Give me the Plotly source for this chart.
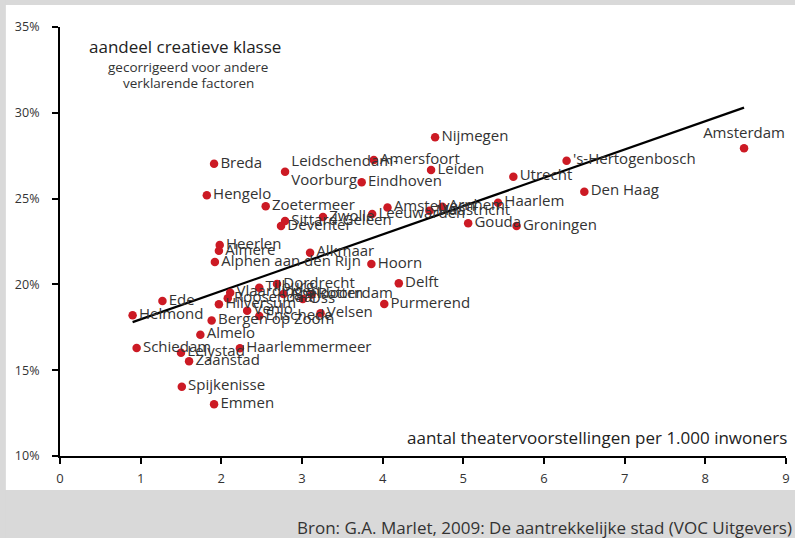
import plotly.graph_objects as go

# ---- data ----
cities = ["Amsterdam", "'s-Hertogenbosch", "Den Haag", "Utrecht", "Nijmegen", "Amersfoort",
          "Leiden", "Leidschendam-<br>Voorburg", "Eindhoven", "Breda", "Hengelo", "Zoetermeer",
          "Sittard-Geleen", "Deventer", "Zwolle", "Leeuwarden", "Amstelveen", "Arnhem",
          "Maastricht", "Haarlem", "Gouda", "Groningen", "Heerlen", "Almere",
          "Alphen aan den Rijn", "Alkmaar", "Hoorn", "Delft", "Purmerend", "Dordrecht",
          "Tilburg", "Vlaardingen", "Roosendaal", "Hilversum", "Venlo", "Enschede",
          "Velsen", "Apeldoorn", "Oss", "Rotterdam", "Ede", "Helmond", "Bergen op Zoom",
          "Almelo", "Schiedam", "Lelystad", "Haarlemmermeer", "Zaanstad", "Spijkenisse", "Emmen"]
theater = [8.48, 6.28, 6.50, 5.62, 4.65, 3.89,
           4.60, 2.79, 3.74, 1.91, 1.82, 2.55,
           2.79, 2.74, 3.26, 3.87, 4.06, 4.74,
           4.58, 5.43, 5.06, 5.66, 1.98, 1.97,
           1.92, 3.10, 3.86, 4.20, 4.02, 2.69,
           2.47, 2.11, 2.08, 1.97, 2.32, 2.47,
           3.23, 2.77, 3.01, 3.12, 1.27, 0.90, 1.88,
           1.74, 0.95, 1.50, 2.23, 1.60, 1.51, 1.91]
creative = [27.93, 27.21, 25.40, 26.28, 28.57, 27.25,
            26.67, 26.57, 25.95, 27.03, 25.19, 24.55,
            23.69, 23.40, 23.93, 24.10, 24.48, 24.53,
            24.29, 24.76, 23.56, 23.40, 22.30, 21.96,
            21.31, 21.85, 21.19, 20.06, 18.86, 20.02,
            19.81, 19.52, 19.19, 18.84, 18.47, 18.16,
            18.32, 19.44, 19.15, 19.41, 19.03, 18.20, 17.89,
            17.07, 16.29, 16.02, 16.28, 15.52, 14.04, 13.01]
label_pos = ["top center"] + ["middle right"] * 49

trend_x = [0.9, 8.48]
trend_y = [17.8, 30.3]

y_ticks = [10, 15, 20, 25, 30, 35]
y_tick_labels = ["10%", "15%", "20%", "25%", "30%", "35%"]
x_ticks = [0, 1, 2, 3, 4, 5, 6, 7, 8, 9]

# ---- layout geometry (pixels) ----
W, H = 795, 538
L, R, T, B = 60, 11, 27, 82
pw, ph = W - L - R, H - T - B


def px(x):
    return (x - L) / pw


def py(y):
    return (H - B - y) / ph


FONT = "Open Sans"
TXT = "#333333"
RED = "#cc1a24"

fig = go.Figure()
fig.add_trace(go.Scatter(x=trend_x, y=trend_y, mode="lines",
                         line=dict(color="black", width=2.2), hoverinfo="skip"))
fig.add_trace(go.Scatter(x=theater, y=creative, mode="markers+text", text=cities,
                         textposition=label_pos,
                         textfont=dict(family=FONT, size=15, color=TXT),
                         marker=dict(color=RED, size=8.5, line=dict(width=0))))

fig.update_layout(
    width=W, height=H, autosize=False, margin=dict(l=L, r=R - 6, t=T, b=B),
    paper_bgcolor="white", plot_bgcolor="white", showlegend=False,
    font=dict(family=FONT, color=TXT),
    xaxis=dict(range=[0, 9], tickvals=x_ticks, showgrid=False, zeroline=False,
               showline=True, linecolor="black", linewidth=2,
               ticks="outside", ticklen=6, tickwidth=2, tickcolor="black",
               ticklabelstandoff=3,
               tickfont=dict(family=FONT, size=13, color=TXT)),
    yaxis=dict(range=[10, 35], tickvals=y_ticks, ticktext=y_tick_labels, showgrid=False,
               zeroline=False, showline=True, linecolor="black", linewidth=2,
               ticks="outside", ticklen=6, tickwidth=2, tickcolor="black",
               ticklabelstandoff=10,
               tickfont=dict(family=FONT, size=12.5, color=TXT)),
    shapes=[
        dict(type="rect", xref="paper", yref="paper", x0=px(0), x1=px(W + 10),
             y0=py(H), y1=py(490), fillcolor="#d9d9d9", line=dict(width=0), layer="below"),
        dict(type="rect", xref="paper", yref="paper", x0=px(0), x1=px(W + 10),
             y0=py(5), y1=py(0), fillcolor="#d9d9d9", line=dict(width=0), layer="below"),
        dict(type="rect", xref="paper", yref="paper", x0=px(0), x1=px(6),
             y0=py(H), y1=py(0), fillcolor="#d9d9d9", line=dict(width=0), layer="below"),
    ],
    annotations=[
        dict(xref="paper", yref="paper", x=px(185), y=py(47), text="aandeel creatieve klasse",
             showarrow=False, font=dict(size=17, color="#222222"), xanchor="center", yanchor="middle"),
        dict(xref="paper", yref="paper", x=px(188), y=py(67), text="gecorrigeerd voor andere",
             showarrow=False, font=dict(size=13.5, color=TXT), xanchor="center", yanchor="middle"),
        dict(xref="paper", yref="paper", x=px(188), y=py(83), text="verklarende factoren",
             showarrow=False, font=dict(size=13.5, color=TXT), xanchor="center", yanchor="middle"),
        dict(xref="paper", yref="paper", x=px(787), y=py(437),
             text="aantal theatervoorstellingen per 1.000 inwoners",
             showarrow=False, font=dict(size=17, color="#222222"), xanchor="right", yanchor="middle"),
        dict(xref="paper", yref="paper", x=px(792), y=py(527),
             text="Bron: G.A. Marlet, 2009: De aantrekkelijke stad (VOC Uitgevers)",
             showarrow=False, font=dict(size=17, color="#333333"), xanchor="right", yanchor="middle"),
    ],
)

fig.write_html("out.html", config={"displayModeBar": False},
               post_script="document.body.style.margin='0';document.body.style.overflow='hidden';")
